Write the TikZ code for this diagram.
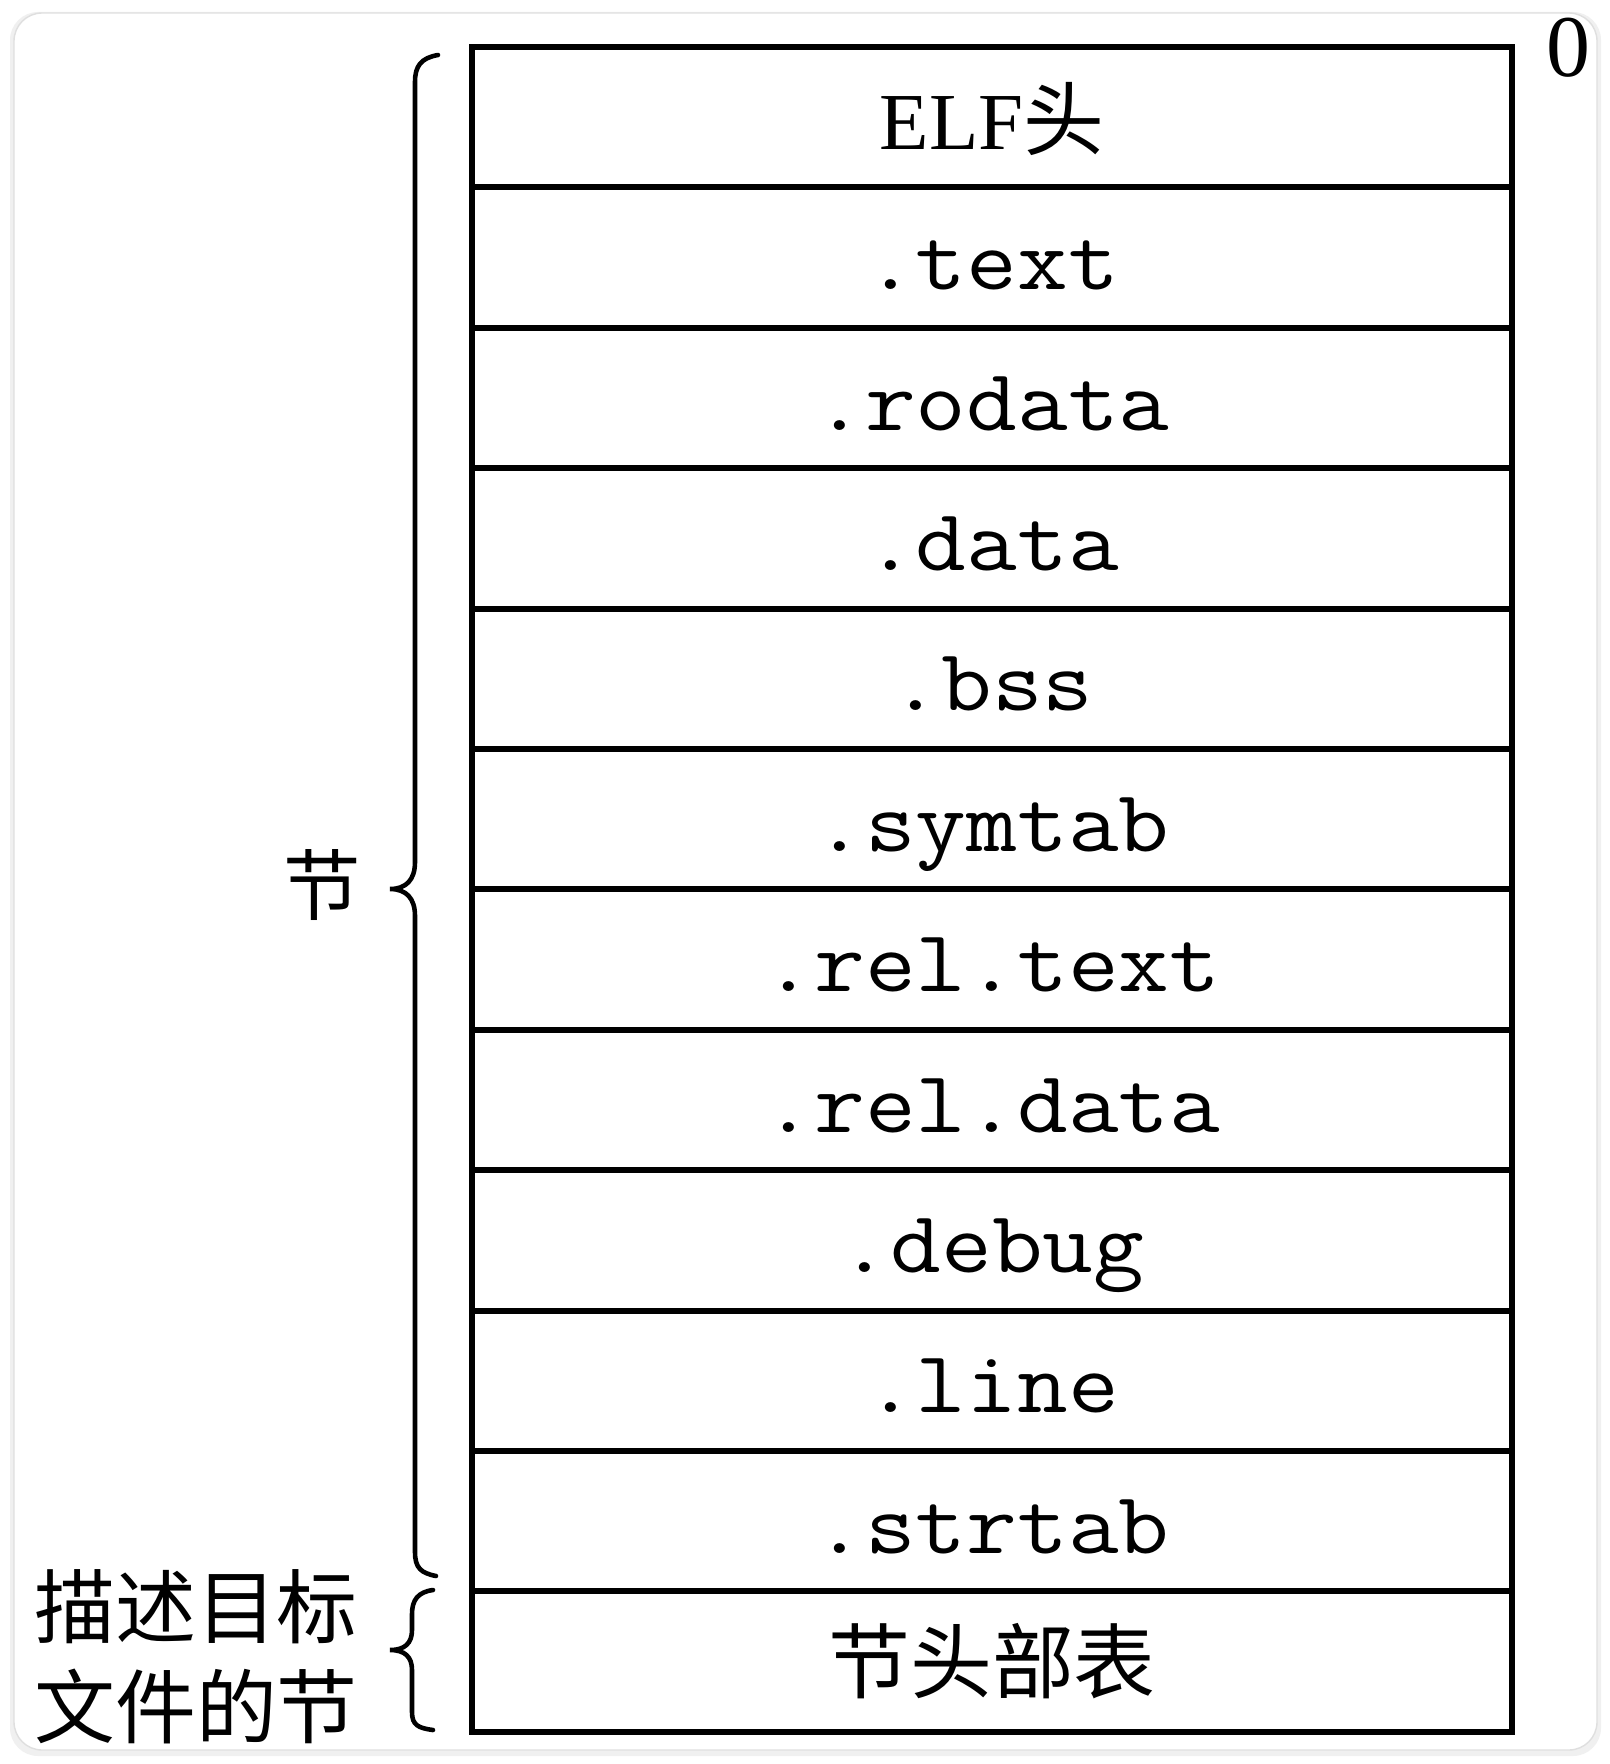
\documentclass[tikz,border=0pt]{standalone}
\usepackage{fontspec}
\usepackage{graphicx}
\setmainfont{Liberation Serif}
\newfontfamily\cjk{Noto Sans CJK SC}
\tikzset{
  seccell/.style={draw, line width=1.7pt, minimum width=10.40cm, minimum height=1.404cm,
    inner sep=0pt, text height=20pt, text depth=1.8pt,
    font=\ttfamily\fontsize{25}{27}\selectfont},
  bracepath/.style={line width=1.3pt, line cap=round}
}
\begin{document}
\begin{tikzpicture}[x=0.01cm, y=-0.01cm]
    % Marco de la captura
    \useasboundingbox (0,0) rectangle (1610,1764);
    \fill[white] (0,0) rectangle (1610,1764);
    \fill[gray!12, rounded corners=8] (10,12) rectangle (1601,1756);
    \filldraw[fill=white, draw=gray!25, rounded corners=8] (14,13) rectangle (1597,1750);

    % Cabecera ELF
    \node[seccell, font=\fontsize{23}{26}\selectfont] (elf) at (992,117.2) {ELF{\cjk 头}};

    % Secciones
    \foreach \name/\label [count=\i] in {text/.text, rodata/.rodata, data/.data, bss/.bss,
        symtab/.symtab, reltext/.rel.text, reldata/.rel.data, debug/.debug,
        line/.line, strtab/.strtab}
      \node[seccell] (\name) at (992,117.2+140.4*\i) {\scalebox{1.12}[1]{\label}};

    % Tabla de cabeceras de seccion
    \node[seccell, text height=, text depth=, font=\cjk\fontsize{23.3}{26}\selectfont] (shdr) at (992,1661.6) {节头部表};

    % Desplazamiento
    \node[font=\fontsize{25}{28}\selectfont] (zero) at (1568,48) {0};

    % Llaves
    \draw[bracepath] (438,55) .. controls (421,58) and (415,66) .. (415,82) -- (415,862)
      .. controls (415,880) and (406,889) .. (390,889)
      .. controls (406,889) and (415,898) .. (415,916) -- (415,1552)
      .. controls (415,1568) and (421,1573) .. (436,1576);
    \draw[bracepath] (433,1590) .. controls (418,1592) and (412,1600) .. (412,1614) -- (412,1630)
      .. controls (412,1643) and (405,1650) .. (390,1650)
      .. controls (405,1650) and (412,1657) .. (412,1670) -- (412,1712)
      .. controls (412,1725) and (418,1728) .. (433,1730);

    % Etiquetas
    \node[font=\cjk\fontsize{22}{26}\selectfont] (seclbl) at (322,885) {节};
    \node[font=\cjk\fontsize{23}{28.45}\selectfont, align=left, inner sep=0pt] (shdrlbl) at (196,1657)
      {描述目标\\文件的节};

  \end{tikzpicture}
\end{document}
